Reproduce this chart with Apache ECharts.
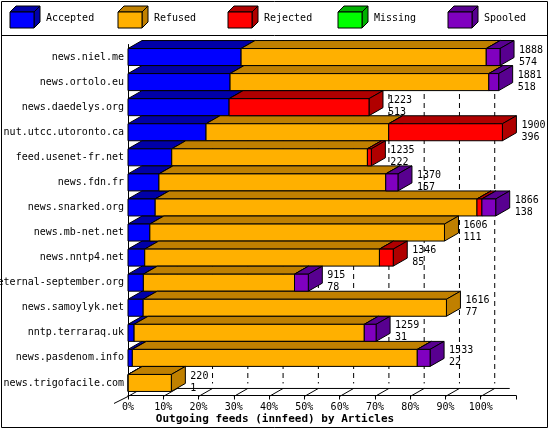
<!DOCTYPE html>
<html><head><meta charset="utf-8">
<script src="https://cdn.jsdelivr.net/npm/echarts@6/dist/echarts.min.js"></script>
<style>html,body{margin:0;padding:0;background:#fff}#c{width:550px;height:430px}</style>
</head><body><div id="c"></div>
<script>
const categories = ['news.niel.me','news.ortolo.eu','news.daedelys.org','nut.utcc.utoronto.ca','feed.usenet-fr.net','news.fdn.fr','news.snarked.org','news.mb-net.net','news.nntp4.net','eternal-september.org','news.samoylyk.net','nntp.terraraq.uk','news.pasdenom.info','news.trigofacile.com'];
const totals   = [1888,1881,1223,1900,1235,1370,1866,1606,1346,915,1616,1259,1533,220];
const accepted = [574,518,513,396,222,157,138,111,85,78,77,31,22,1];
const refused  = [1244,1313,0,927,993,1151,1633,1495,1191,767,1539,1168,1446,219];
const rejected = [0,0,710,577,20,0,25,0,70,0,0,0,0,0];
const missing  = [0,0,0,0,0,0,0,0,0,0,0,0,0,0];
const spooled  = [70,50,0,0,0,62,70,0,0,70,0,60,65,0];
const seriesNames = ['Accepted','Refused','Rejected','Missing','Spooled'];
const tickLabels = ['0%','10%','20%','30%','40%','50%','60%','70%','80%','90%','100%'];
const TEN = 179; // articles per 10% of the axis
const stacks = [accepted, refused, rejected, missing, spooled];
const front = ['#0000ff','#ffb000','#ff0000','#00ff00','#8000c0'];
const dark  = ['#0000a8','#c08000','#b00000','#00b000','#580090'];
const DX = 14, DY = 8, H = 17;
const font = '"DejaVu Sans Mono", monospace';

function seg(k){
  return {
    type:'custom', name: seriesNames[k], z: 3,
    data: stacks[k].map((v,i)=>[i,v]),
    renderItem(params, api){
      const i = api.value(0), v = api.value(1);
      if (!v) return null;
      let s = 0; for (let j=0;j<k;j++) s += stacks[j][i];
      const a = api.coord([s,i]), b = api.coord([s+v,i]);
      const x0=a[0], x1=b[0], yT=a[1]-H/2, yB=a[1]+H/2;
      const st = {stroke:'#000', lineWidth:1};
      return {type:'group', children:[
        {type:'polygon', shape:{points:[[x0,yT],[x1,yT],[x1+DX,yT-DY],[x0+DX,yT-DY]]}, style:Object.assign({fill:dark[k]},st)},
        {type:'polygon', shape:{points:[[x1,yT],[x1+DX,yT-DY],[x1+DX,yB-DY],[x1,yB]]}, style:Object.assign({fill:dark[k]},st)},
        {type:'rect', shape:{x:x0,y:yT,width:x1-x0,height:H}, style:Object.assign({fill:front[k]},st)}
      ]};
    }
  };
}
const labelSeries = {
  type:'custom', z:4, data: totals.map((t,i)=>[i,t,accepted[i]]),
  renderItem(params, api){
    const p = api.coord([api.value(1), api.value(0)]);
    const x = p[0]+DX+5;
    return {type:'group', children:[
      {type:'text', style:{text:String(api.value(1)), x, y:p[1]-7, verticalAlign:'middle', font:'10px '+font, fill:'#000'}},
      {type:'text', style:{text:String(api.value(2)), x, y:p[1]+5, verticalAlign:'middle', font:'10px '+font, fill:'#000'}}
    ]};
  }
};

const chart = echarts.init(document.getElementById('c'));
const legendG = [];
const lx = [10,118,228,338,448];
seriesNames.forEach((n,k)=>{
  const x=lx[k], y=12, w=24, h=16, d=6;
  legendG.push({type:'polygon', shape:{points:[[x,y],[x+w,y],[x+w+d,y-d],[x+d,y-d]]}, style:{fill:dark[k],stroke:'#000'}});
  legendG.push({type:'polygon', shape:{points:[[x+w,y],[x+w+d,y-d],[x+w+d,y+h-d],[x+w,y+h]]}, style:{fill:dark[k],stroke:'#000'}});
  legendG.push({type:'rect', shape:{x,y,width:w,height:h}, style:{fill:front[k],stroke:'#000'}});
  legendG.push({type:'text', style:{text:n, x:x+w+d+6, y:y+h/2-2, verticalAlign:'middle', font:'10px '+font, fill:'#000'}});
});
legendG.push({type:'rect', shape:{x:1.5,y:1.5,width:546,height:426}, style:{fill:'none',stroke:'#000',lineWidth:1}, z:-1});
legendG.push({type:'line', shape:{x1:1,y1:35.5,x2:548,y2:35.5}, style:{stroke:'#000'}});

chart.setOption({
  animation:false,
  title:{text:'Outgoing feeds (innfeed) by Articles', left:'center', top:409, textStyle:{fontFamily:font, fontSize:11, fontWeight:'bold', color:'#000'}},
  grid:{left:128, top:44.5, width:388, height:351, containLabel:false, outerBoundsMode:'none'},
  xAxis:{type:'value', min:0, max:TEN*11, interval:TEN,
    axisLine:{show:true, lineStyle:{color:'#000'}}, axisTick:{show:true, length:4, lineStyle:{color:'#000'}},
    splitLine:{show:false},
    axisLabel:{color:'#000', fontFamily:font, fontSize:10, margin:7, formatter:(v)=>tickLabels[Math.round(v/TEN)]||''}},
  yAxis:{type:'category', data:categories, inverse:true,
    axisLine:{show:true, lineStyle:{color:'#000'}}, axisTick:{show:false},
    axisLabel:{color:'#000', fontFamily:font, fontSize:10, margin:4}},
  graphic: legendG,
  series:[0,1,2,3,4].map(seg).concat([labelSeries])
});

const extra = legendG.slice();
const yFloor = chart.convertToPixel({gridIndex:0},[0,13])[1] + H/2;
for (let t=0;t<=10;t++){
  const x = chart.convertToPixel({gridIndex:0},[t*TEN,0])[0];
  if (t>0) extra.push({type:'line', z:0, shape:{x1:x+DX,y1:40,x2:x+DX,y2:yFloor-DY}, style:{stroke:'#000',lineDash:[5,4]}});
  extra.push({type:'line', z:0, shape:{x1:x,y1:yFloor+5,x2:x+DX,y2:yFloor-DY+5}, style:{stroke:'#000'}});
}
const x0 = chart.convertToPixel({gridIndex:0},[0,0])[0];
const x10 = chart.convertToPixel({gridIndex:0},[10*TEN,0])[0];
extra.push({type:'line', z:0, shape:{x1:x0+DX,y1:yFloor-DY+5,x2:x10+DX+15,y2:yFloor-DY+5}, style:{stroke:'#000'}});
extra.push({type:'line', z:0, shape:{x1:x0-DX,y1:yFloor+12,x2:x0,y2:yFloor+5}, style:{stroke:'#000'}});
chart.setOption({graphic: extra});
</script></body></html>
